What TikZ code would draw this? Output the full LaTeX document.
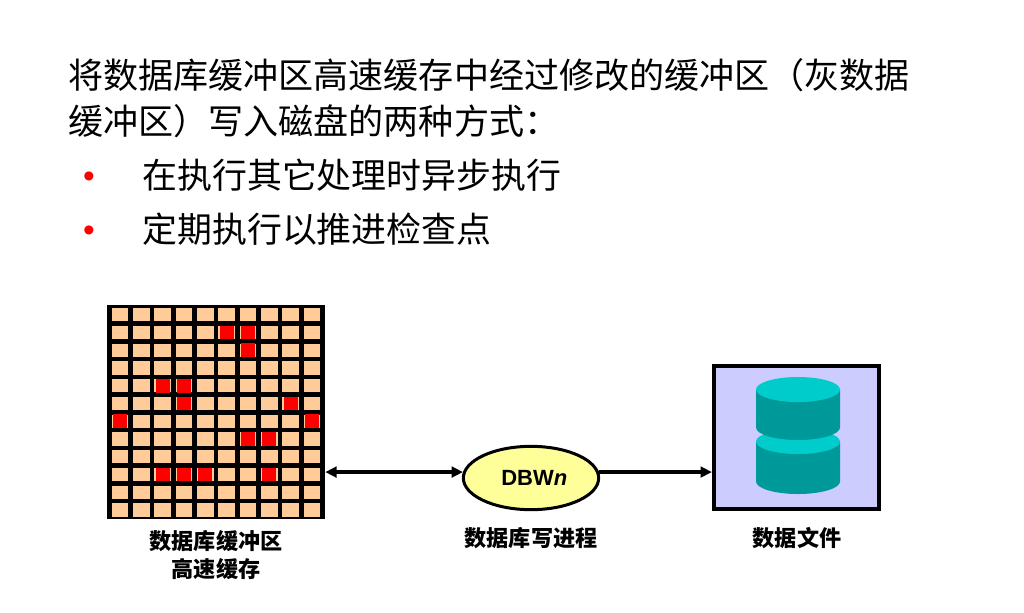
\documentclass[tikz,border=0pt]{standalone}
\usepackage{fontspec}
\setmainfont{Liberation Sans}
\newfontfamily\cjk{Noto Sans CJK SC}
\definecolor{CellPeach}{RGB}{255,204,153}
\definecolor{CellRed}{RGB}{255,0,0}
\definecolor{ProcYellow}{RGB}{255,255,153}
\definecolor{FileLilac}{RGB}{204,204,255}
\definecolor{DiskDark}{RGB}{0,153,153}
\definecolor{DiskLight}{RGB}{0,204,204}
\usetikzlibrary{
    arrows.meta,
    positioning,
    shapes.geometric
}
\tikzset{
    headline/.style={
        anchor=west,
        inner sep=0pt,
        font=\cjk\fontsize{26.3}{30}\selectfont
    },
    listline/.style={
        headline,
        font=\cjk\fontsize{26.2}{30}\selectfont
    },
    caption/.style={
        align=center,
        inner sep=0pt,
        font=\cjk\bfseries\fontsize{16.6}{21}\selectfont
    },
    bufcell/.style={
        fill=CellPeach,
        inner sep=0pt,
        minimum width=12.6pt,
        minimum height=10pt
    },
    dirtycell/.style={
        fill=CellRed,
        inner sep=0pt,
        minimum width=10.6pt,
        minimum height=10.4pt
    },
    bulletmark/.style={
        CellRed,
        inner sep=0pt,
        font=\fontsize{25}{25}\selectfont
    },
    flow/.style={
        line width=2.8pt,
        {Triangle[length=8.5pt,width=8pt]}-{Triangle[length=8.5pt,width=8pt]}
    },
    flowright/.style={
        line width=2.8pt,
        -{Triangle[length=8.5pt,width=8pt]}
    }
}

\begin{document}
\begin{tikzpicture}[x=0.75pt,y=-0.75pt]
%
    \useasboundingbox (0,0) rectangle (1024,612);
%
    % heading and bullet list
%
    \node[headline] (headOne) at (68,75) {将数据库缓冲区高速缓存中经过修改的缓冲区（灰数据};
    \node[headline] (headTwo) at (68,121) {缓冲区）写入磁盘的两种方式：};
    \node[bulletmark] (markOne) at (89,180) {•};
    \node[listline] (itemOne) at (142,175) {在执行其它处理时异步执行};
    \node[bulletmark] (markTwo) at (89,234) {•};
    \node[listline] (itemTwo) at (142,229) {定期执行以推进检查点};
%
    % buffer cache grid
%
    \node[
        fill=black,
        inner sep=0pt,
        minimum width=163.5pt,
        minimum height=160.5pt
    ]
    (bufferGrid) at (216,412) {};
%
    \foreach \c in {0,...,9} {
        \foreach \r in {0,...,11} {
            \node[bufcell] (cell-\c-\r) at ({120+21.33*\c},{314.8+17.75*\r}) {};
        }
    }
%
    % modified buffers
%
    \foreach \c/\r in {
        5/1,6/1,6/2,
        2/4,3/4,3/5,8/5,
        0/6,9/6,
        6/7,7/7,
        2/9,3/9,4/9,7/9
    } {
        \node[dirtycell] (dirty-\c-\r) at ({120+21.33*\c},{314.8+17.75*\r}) {};
    }
%
    % writer process
%
    \node[
        ellipse,
        draw=black,
        fill=ProcYellow,
        line width=2.25pt,
        inner sep=0pt,
        minimum width=101.5pt,
        minimum height=47.5pt,
        font=\bfseries\fontsize{16.5}{20}\selectfont
    ]
    (dbwProc) at (531,478) {\hspace{5pt}DBW\textit{n}};
%
    % data file box
%
    \node[
        draw=black,
        fill=FileLilac,
        line width=3.4pt,
        inner sep=0pt,
        minimum width=123.5pt,
        minimum height=107pt
    ]
    (dataBox) at (796.5,437.5) {};
%
    % stacked disks
%
    \fill[DiskDark]
    (756,441.5) -- (756,481.5)
    arc[start angle=180,end angle=0,x radius=42,y radius=12.5]
    -- (840,441.5) -- cycle;
    \fill[DiskLight] (798,441.5) ellipse[x radius=42,y radius=12.5];
    \fill[DiskDark]
    (756,389.5) -- (756,427.5)
    arc[start angle=180,end angle=0,x radius=42,y radius=12.5]
    -- (840,389.5) -- cycle;
    \fill[DiskLight] (798,389.5) ellipse[x radius=42,y radius=12.5];
%
    % connectors
%
    \draw[flow] (bufferGrid.east |- dbwProc.175) -- (dbwProc.175);
    \draw[flowright] (dbwProc.5) -- (dataBox.west |- dbwProc.5);
%
    % captions
%
    \node[caption] (bufferCap) at (216,555) {数据库缓冲区\\高速缓存};
    \node[caption] (procCap) at (531,538) {数据库写进程};
    \node[caption] (fileCap) at (797,538) {数据文件};
%
\end{tikzpicture}
\end{document}
